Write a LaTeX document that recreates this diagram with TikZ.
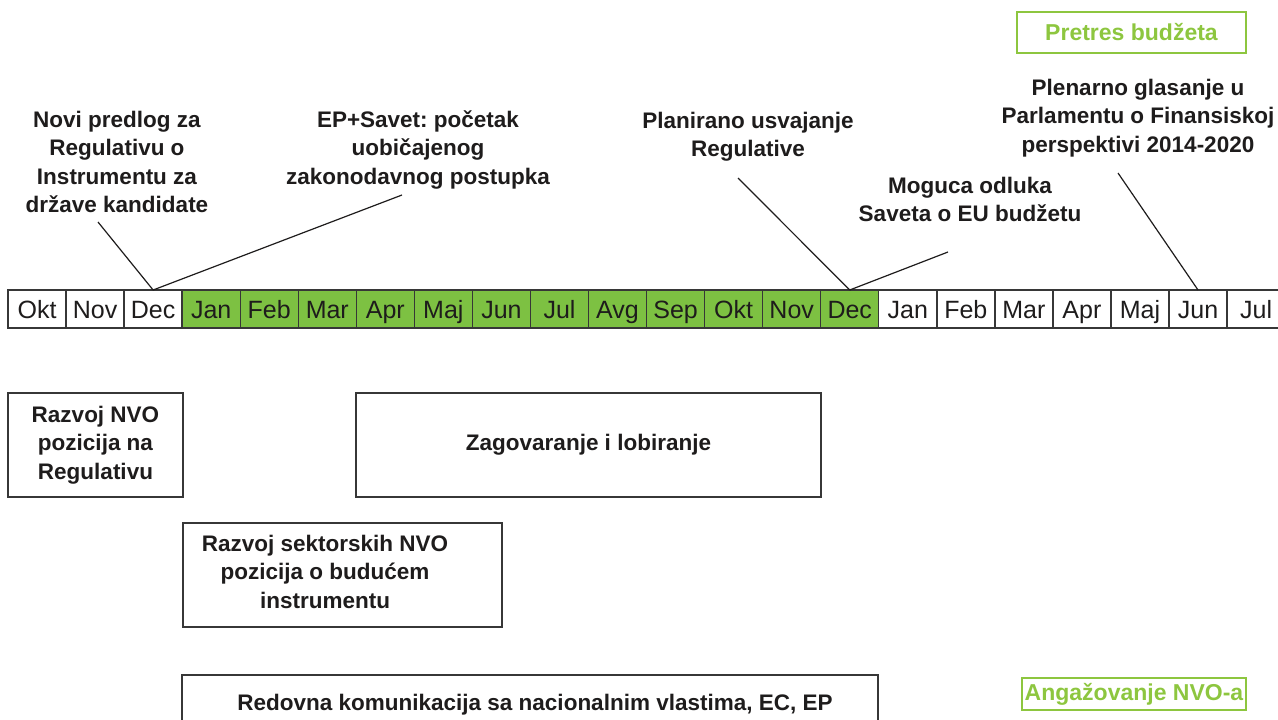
\documentclass[tikz,border=0pt]{standalone}
\usepackage{fontspec}
\setmainfont{Liberation Sans}
\usetikzlibrary{calc}
\definecolor{tlgreen}{RGB}{125,193,66}
\definecolor{boxgreen}{RGB}{141,198,63}
\definecolor{ink}{RGB}{30,28,28}
\definecolor{edge}{RGB}{55,55,55}
\newcommand\stk[1]{\begin{tabular}[t]{@{}c@{}}#1\end{tabular}}
\frenchspacing
\begin{document}
\begin{tikzpicture}[x=1pt,y=-1pt,
  lbl/.style={anchor=base, inner sep=0pt, outer sep=0pt, text=ink,
    font=\fontsize{22.5}{28.5}\selectfont\bfseries},
  month/.style={draw=edge, line width=1.4pt, minimum width=58.05pt, minimum height=38pt,
    inner sep=0pt, outer sep=0pt, anchor=north west, text=ink,
    text height=20pt, text depth=2pt,
    font=\fontsize{25}{30}\selectfont},
  box/.style={draw=edge, line width=1.4pt, inner sep=0pt, outer sep=0pt, anchor=north west,
    text=ink, font=\fontsize{22.5}{28.5}\selectfont\bfseries},
  gbox/.style={draw=boxgreen, line width=2.6pt, inner sep=0pt, outer sep=0pt,
    text=boxgreen, font=\fontsize{23}{28}\selectfont\bfseries},
  conn/.style={draw=ink, line width=1.2pt}
]
\useasboundingbox (0,0) rectangle (1278,720);
\clip (0,0) rectangle (1278,720);

% timeline
\foreach \m [count=\i] in {Okt,Nov,Dec,Jan,Feb,Mar,Apr,Maj,Jun,Jul,Avg,Sep,Okt,Nov,Dec,Jan,Feb,Mar,Apr,Maj,Jun,Jul}{
  \ifnum\i>3 \ifnum\i<16 \def\fc{tlgreen}\else\def\fc{white}\fi\else\def\fc{white}\fi
  \node[month, fill=\fc] (m\i) at ({8+58.05*(\i-1)},290) {\m};
}

% top labels
\node[lbl] (novi) at (117,127) {\stk{Novi predlog za\\Regulativu o\\Instrumentu za\\države kandidate}};
\node[lbl] (ep) at (418,127) {\stk{EP+Savet: početak\\uobičajenog\\zakonodavnog postupka}};
\node[lbl] (plan) at (748,128) {\stk{Planirano usvajanje\\Regulative}};
\node[lbl] (mog) at (970,193) {\stk{Moguca odluka\\Saveta o EU budžetu}};
\node[lbl] (plen) at (1138,95) {\stk{Plenarno glasanje u\\Parlamentu o Finansiskoj\\perspektivi 2014-2020}};

\node[gbox, minimum width=229pt, minimum height=41pt] (pretres) at (1131.5,32.5) {Pretres budžeta};

% connectors
\coordinate (noviEnd) at (98,222);
\coordinate (epEnd) at (402,195);
\coordinate (planEnd) at (738,178);
\coordinate (mogEnd) at (948,252);
\coordinate (plenEnd) at (1118,173);
\draw[conn] (noviEnd) -- (m3.north);
\draw[conn] (epEnd) -- (m3.north);
\draw[conn] (planEnd) -- (m15.north);
\draw[conn] (mogEnd) -- (m15.north);
\draw[conn] (plenEnd) -- (m21.north);

% activity boxes
\node[box, minimum width=175pt, minimum height=104pt] (razvoj) at (8,393)
  {\stk{Razvoj NVO\\pozicija na\\Regulativu}};
\node[box, minimum width=465pt, minimum height=104pt] (zag) at (356,393)
  {Zagovaranje i lobiranje};
\node[box, minimum width=319pt, minimum height=104pt] (sekt) at (183,523) {};
\node[lbl] (sektTxt) at (325,551) {\stk{Razvoj sektorskih NVO\\pozicija o budućem\\instrumentu}};
\node[box, minimum width=696pt, minimum height=80pt] (red) at (182,675) {};
\node[lbl] (redTxt) at (535,710) {Redovna komunikacija sa nacionalnim vlastima, EC, EP};

\node[gbox, minimum width=224pt, minimum height=32pt] (ang) at (1134,694) {Angažovanje NVO-a};
\end{tikzpicture}
\end{document}
